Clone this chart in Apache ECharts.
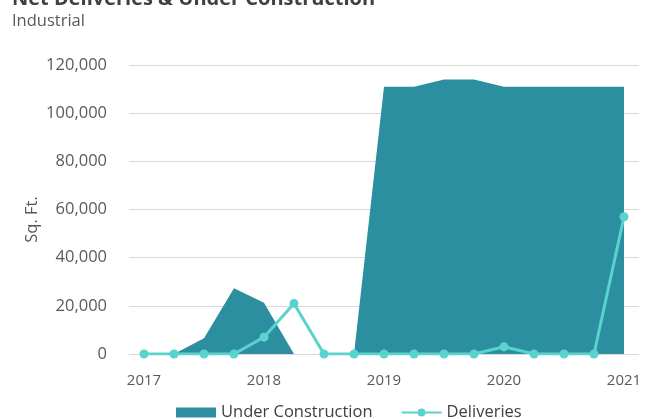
<!DOCTYPE html>
<html>
<head>
<meta charset="utf-8">
<style>
  html, body { margin: 0; padding: 0; background: #ffffff; }
  #chart { width: 653px; height: 419px; }
</style>
<script src="https://cdn.jsdelivr.net/npm/echarts@6/dist/echarts.min.js"></script>
</head>
<body>
<div id="chart"></div>
<script>
// Quarterly periods, 2017 Q1 through 2021 Q1
const quarters = [
  '2017 Q1', '2017 Q2', '2017 Q3', '2017 Q4',
  '2018 Q1', '2018 Q2', '2018 Q3', '2018 Q4',
  '2019 Q1', '2019 Q2', '2019 Q3', '2019 Q4',
  '2020 Q1', '2020 Q2', '2020 Q3', '2020 Q4',
  '2021 Q1'
];

// Square feet under construction per quarter
const underConstruction = [
  0, 0, 6500, 27300,
  21300, 0, 0, 0,
  111000, 111000, 114000, 114000,
  111000, 111000, 111000, 111000,
  111000
];

// Net deliveries per quarter (sq. ft.)
const deliveries = [
  0, 0, 0, 0,
  7000, 21000, 0, 0,
  0, 0, 0, 0,
  3000, 0, 0, 0,
  57000
];

const yTicks = { min: 0, max: 120000, step: 20000 };

const textFont = '"Open Sans", "Noto Sans", sans-serif';
const areaColor = '#2c8fa0';
const lineColor = '#5ad3ce';

const chart = echarts.init(document.getElementById('chart'), null, { renderer: 'canvas' });

chart.setOption({
  animation: false,
  backgroundColor: '#ffffff',
  graphic: [
    {
      type: 'text',
      left: 12,
      top: -11,
      style: {
        text: 'Net Deliveries & Under Construction',
        font: 'bold 20px ' + textFont,
        fill: '#404040'
      }
    },
    {
      type: 'text',
      left: 12,
      top: 13,
      style: {
        text: 'Industrial',
        font: '16.5px ' + textFont,
        fill: '#595959'
      }
    }
  ],
  grid: {
    left: 129,
    right: 14,
    top: 65,
    bottom: 65
  },
  legend: {
    bottom: -7,
    left: 171,
    itemGap: 28,
    itemWidth: 40,
    itemHeight: 10,
    textStyle: { fontFamily: textFont, fontSize: 16.5, color: '#404040' },
    data: [
      { name: 'Under Construction', icon: 'rect' },
      { name: 'Deliveries' }
    ]
  },
  xAxis: {
    type: 'category',
    data: quarters,
    boundaryGap: true,
    axisLine: { show: false },
    axisTick: { show: false },
    axisLabel: {
      interval: 3,
      formatter: v => v.slice(0, 4),
      fontFamily: textFont,
      fontSize: 15,
      color: '#595959',
      margin: 19
    }
  },
  yAxis: {
    type: 'value',
    min: yTicks.min,
    max: yTicks.max,
    interval: yTicks.step,
    name: 'Sq. Ft.',
    nameLocation: 'middle',
    nameGap: 88,
    nameMoveOverlap: false,
    nameRotate: 90,
    nameTextStyle: {
      fontFamily: textFont,
      fontSize: 16.5,
      color: '#595959',
      padding: [0, 20, 0, 0]
    },
    axisLine: { show: false },
    axisTick: { show: false },
    splitLine: { lineStyle: { color: '#d9d9d9', width: 1 } },
    axisLabel: {
      fontFamily: textFont,
      fontSize: 16.5,
      color: '#595959',
      margin: 22,
      formatter: v => v.toLocaleString('en-US')
    }
  },
  series: [
    {
      name: 'Under Construction',
      type: 'line',
      data: underConstruction,
      symbol: 'none',
      lineStyle: { width: 0, color: areaColor },
      itemStyle: { color: areaColor },
      areaStyle: { color: areaColor, opacity: 1 },
      z: 1
    },
    {
      name: 'Deliveries',
      type: 'line',
      data: deliveries,
      symbol: 'circle',
      symbolSize: 9,
      lineStyle: { width: 3, color: lineColor },
      itemStyle: { color: lineColor },
      z: 2
    }
  ]
});
</script>
</body>
</html>
